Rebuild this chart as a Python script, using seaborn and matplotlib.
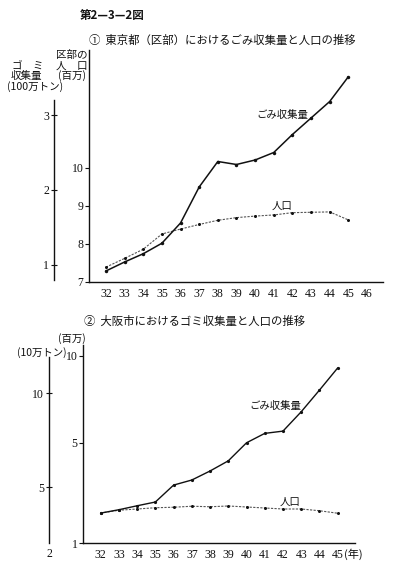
import numpy as np
import pandas as pd
import matplotlib
matplotlib.use("Agg")
import matplotlib.pyplot as plt
import seaborn as sns
from matplotlib.transforms import blended_transform_factory

# ---------------- data ----------------
years = [32, 33, 34, 35, 36, 37, 38, 39, 40, 41, 42, 43, 44, 45]
tokyo_garbage = [0.92, 1.04, 1.15, 1.29, 1.56, 2.04, 2.38, 2.34, 2.40, 2.50, 2.74, 2.96, 3.18, 3.51]
tokyo_pop = [7.39, 7.62, 7.86, 8.26, 8.39, 8.51, 8.62, 8.69, 8.73, 8.76, 8.82, 8.83, 8.84, 8.63]
osaka_garbage = [3.62, 3.80, 4.01, 4.21, 5.11, 5.38, 5.86, 6.40, 7.36, 7.86, 7.98, 9.01, 10.16, 11.34]
osaka_pop = [2.20, 2.31, 2.36, 2.41, 2.43, 2.47, 2.45, 2.48, 2.44, 2.40, 2.36, 2.36, 2.29, 2.19]

tokyo_xticks = [32, 33, 34, 35, 36, 37, 38, 39, 40, 41, 42, 43, 44, 45, 46]
osaka_xticks = [32, 33, 34, 35, 36, 37, 38, 39, 40, 41, 42, 43, 44, 45]
tokyo_pop_ticks = [7, 8, 9, 10]
tokyo_garb_ticks = [1, 2, 3]
osaka_pop_ticks = [1, 5, 10]
osaka_garb_ticks = [5, 10]

tokyo_df = pd.DataFrame({"年": years, "ごみ": tokyo_garbage, "人口": tokyo_pop})
osaka_df = pd.DataFrame({"年": years, "ごみ": osaka_garbage, "人口": osaka_pop})

# ---------------- style ----------------
sns.set_theme(style="white")
plt.rcParams["font.family"] = ["Noto Sans CJK JP", "DejaVu Sans"]
NUM_FONT = "Liberation Serif"

W, H = 396, 568
fig = plt.figure(figsize=(W / 100, H / 100), dpi=100, facecolor="white")


def rect(l, t, r, b):
    return [l / W, 1 - b / H, (r - l) / W, (b - t) / H]


def ftext(x, y, s, **kw):
    fig.text(x / W, 1 - y / H, s, **kw)


INK = "#111111"
POP_C = "#555555"


def style_main(ax, xticks):
    for s in ["top", "right"]:
        ax.spines[s].set_visible(False)
    for s in ["left", "bottom"]:
        ax.spines[s].set_color(INK)
        ax.spines[s].set_linewidth(1.0)
    ax.set_xticks(xticks)
    ax.set_xticklabels([str(t) for t in xticks], fontfamily=NUM_FONT, fontsize=8.5)
    ax.tick_params(axis="x", direction="in", length=3, width=0.8, color=INK, pad=4, labelcolor=INK)
    ax.tick_params(axis="y", direction="out", length=3, width=0.8, color=INK, pad=1, labelcolor=INK)
    ax.set_xlabel("")
    ax.set_ylabel("")
    ax.grid(False)


def style_twin(tw, offset, lo, hi, ticks):
    for s in ["top", "right", "bottom"]:
        tw.spines[s].set_visible(False)
    tw.spines["left"].set_visible(True)
    tw.spines["left"].set_position(("axes", offset))
    tw.spines["left"].set_bounds(lo, hi)
    tw.spines["left"].set_color(INK)
    tw.spines["left"].set_linewidth(1.0)
    tw.yaxis.tick_left()
    tw.set_yticks(ticks)
    tw.set_yticklabels([str(t) for t in ticks], fontfamily=NUM_FONT, fontsize=8.5)
    tw.tick_params(axis="y", direction="inout", length=5, width=0.8, color=INK, pad=1, labelcolor=INK)
    tw.set_ylabel("")
    tw.grid(False)


# ================= Chart 1 : Tokyo =================
ax1 = fig.add_axes(rect(89, 50, 383, 282))
sns.lineplot(data=tokyo_df, x="年", y="人口", ax=ax1, color=POP_C, lw=0.8,
             linestyle=(0, (2, 1.2)), marker="o", markersize=2.2,
             markeredgewidth=0, markerfacecolor=INK)
ax1.set_xlim(31.09, 46.86)
ax1.set_ylim(7.0, 13.09)
ax1.set_yticks(tokyo_pop_ticks)
ax1.set_yticklabels([str(t) for t in tokyo_pop_ticks], fontfamily=NUM_FONT, fontsize=8.5)
style_main(ax1, tokyo_xticks)

tw1 = ax1.twinx()
sns.lineplot(data=tokyo_df, x="年", y="ごみ", ax=tw1, color=INK, lw=1.1,
             marker="o", markersize=2.5, markeredgewidth=0)
tw1.set_ylim(0.773, 3.867)
style_twin(tw1, -0.119, 0.8, 3.2, tokyo_garb_ticks)
tw1.set_xlim(31.09, 46.86)

tw1.text(42.85, 3.0, "ごみ収集量", fontsize=7.5, ha="right", va="center", color=INK)
ax1.text(41.45, 9.0, "人口", fontsize=7.5, ha="center", va="center", color=INK)

# ================= Chart 2 : Osaka =================
ax2 = fig.add_axes(rect(83, 345, 355, 543))
kv = [0, 1, 5, 10, 20]
kp = [-25, 0, 100, 187, 361]
ax2.set_yscale("function", functions=(lambda v: np.interp(v, kv, kp),
                                      lambda p: np.interp(p, kp, kv)))
sns.lineplot(data=osaka_df, x="年", y="人口", ax=ax2, color=POP_C, lw=0.8,
             linestyle=(0, (2, 1.2)), marker="o", markersize=2.2,
             markeredgewidth=0, markerfacecolor=INK)
ax2.set_xlim(31.03, 45.95)
ax2.set_ylim(1.0, 10.63)
ax2.set_yticks(osaka_pop_ticks)
ax2.set_yticklabels([str(t) for t in osaka_pop_ticks], fontfamily=NUM_FONT, fontsize=8.5)
ax2.minorticks_off()
style_main(ax2, osaka_xticks)

tw2 = ax2.twinx()
sns.lineplot(data=osaka_df, x="年", y="ごみ", ax=tw2, color=INK, lw=1.0,
             marker="o", markersize=2.3, markeredgewidth=0)
tw2.set_ylim(2.03, 12.56)
style_twin(tw2, -0.125, 2.03, 11.92, osaka_garb_ticks)
tw2.set_xlim(31.03, 45.95)
tw2.text(-0.125, 1.75, "2", transform=blended_transform_factory(tw2.transAxes, tw2.transData),
         ha="center", va="top", fontfamily=NUM_FONT, fontsize=8.5, color=INK)

tw2.text(43.0, 9.3, "ごみ収集量", fontsize=7.5, ha="right", va="center", color=INK)
ax2.text(42.38, 2.64, "人口", fontsize=7.5, ha="center", va="center", color=INK)
ax2.text(45.35, -0.03, "(年)", transform=blended_transform_factory(ax2.transData, ax2.transAxes),
         fontsize=8, ha="left", va="top", color=INK)

# ================= titles and unit labels =================
ftext(80, 16, "第2—3—2図", fontsize=8.3, fontweight="bold", ha="left", va="center", color=INK)
ftext(89, 40, "①  東京都（区部）におけるごみ収集量と人口の推移", fontsize=8.2, ha="left", va="center", color=INK)
ftext(84, 321, "②  大阪市におけるゴミ収集量と人口の推移", fontsize=8.2, ha="left", va="center", color=INK)

ftext(72, 55, "区部の", fontsize=7.6, ha="center", va="center", color=INK)
ftext(72, 66, "人　口", fontsize=7.6, ha="center", va="center", color=INK)
ftext(72, 76, "(百万)", fontsize=7.6, ha="center", va="center", color=INK)
ftext(28, 66, "ゴ　ミ", fontsize=7.6, ha="center", va="center", color=INK)
ftext(26, 76, "収集量", fontsize=7.6, ha="center", va="center", color=INK)
ftext(35, 87, "(100万トン)", fontsize=7.6, ha="center", va="center", color=INK)

ftext(72, 339, "(百万)", fontsize=7.5, ha="center", va="center", color=INK)
ftext(42, 353, "(10万トン)", fontsize=7.5, ha="center", va="center", color=INK)

fig.savefig("out.png", dpi=100, facecolor="white")
